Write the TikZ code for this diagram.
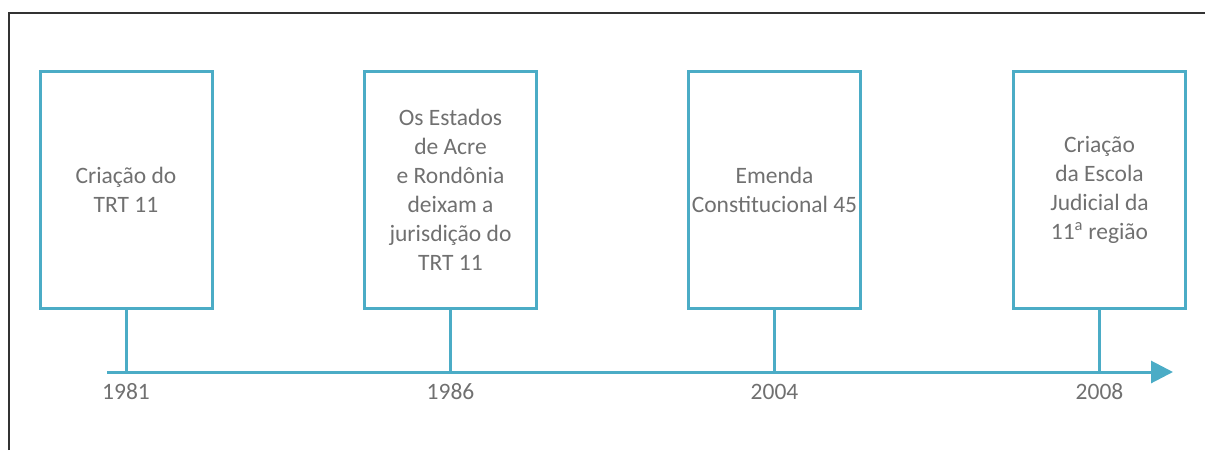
\documentclass[tikz,border=0pt]{standalone}
\usepackage{fontspec}
\setmainfont{Carlito}
\usepackage{tikz}
\usetikzlibrary{positioning,arrows.meta,calc}
\definecolor{aqua}{RGB}{75,172,198}
\definecolor{cinza}{RGB}{112,112,112}

\begin{document}
\begin{tikzpicture}[x=1pt, y=-1pt,
    caixa/.style={draw=aqua, line width=3pt, minimum width=172pt, minimum height=237pt,
        align=center, text=cinza, inner sep=2pt,
        font=\fontsize{23.5}{29}\selectfont},
    linha/.style={aqua, line width=3pt},
    ano/.style={text=cinza, font=\fontsize{23.5}{29}\selectfont}]
\useasboundingbox (0,0) rectangle (1205,450);

% Moldura
\draw[line width=1.6pt, black!80] (9,450) -- (9,13) -- (1205,13);

% Linha do tempo
\coordinate (inicio) at (107,372);
\coordinate (fim) at (1173,372);
\draw[linha, -{Triangle[length=22pt, width=22pt]}] (inicio) -- (fim);

% Caixas, hastes e anos
\foreach \i/\x/\ano/\texto in {
    1/126/1981/{Criação do\\TRT 11},
    2/450.5/1986/{Os Estados\\de Acre\\e Rondônia\\deixam a\\jurisdição do\\TRT 11},
    3/774.5/2004/{Emenda\\Constitucional 45},
    4/1099.5/2008/{Criação\\da Escola\\Judicial da\\11\textsuperscript{a} região}} {
    \node[caixa] (caixa\i) at (\x,189.5) {\texto};
    \coordinate (marco\i) at (\x,372);
    \draw[linha] (caixa\i.south) -- (marco\i);
    \node[ano] (ano\i) at (\x,392) {\ano};
}

\end{tikzpicture}
\end{document}
